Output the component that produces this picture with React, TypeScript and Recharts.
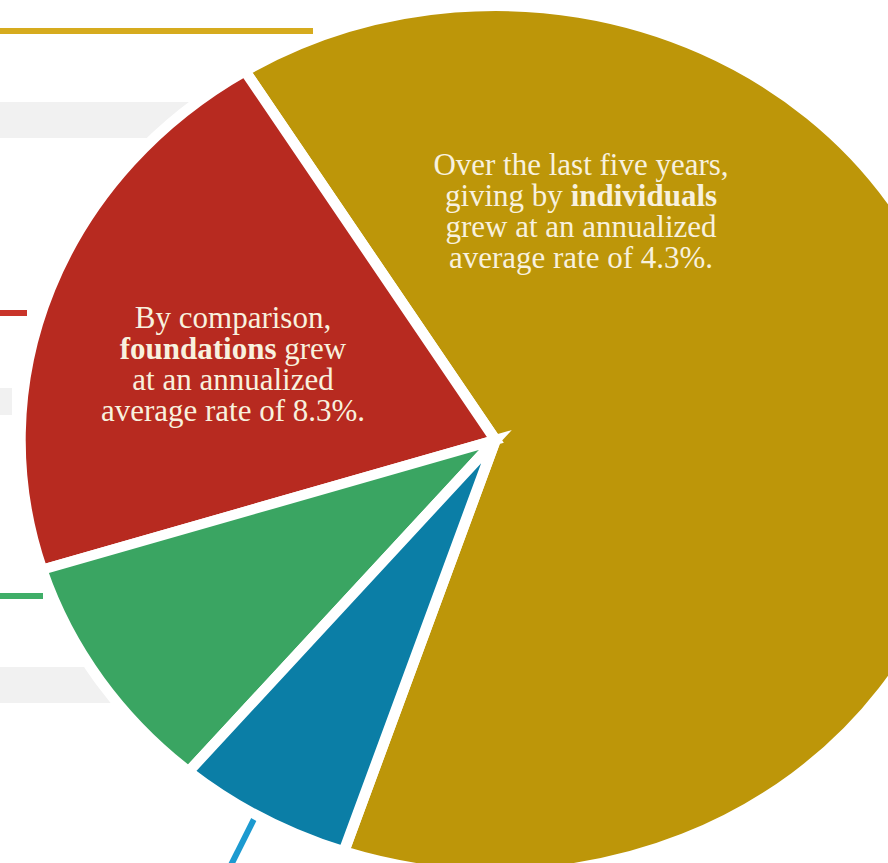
import React from "react"
import { PieChart, Pie, Cell } from "recharts"

// giving shares by source (percent)
const sources = ["Individuals", "Foundations", "Bequests", "Corporations"]
const shares = [64, 21, 9, 6]
const colors = ["#BD9609", "#B72A20", "#3AA562", "#0B7EA6"]

const individualsNote = [
  ["Over the last five years,"],
  ["giving by ", "individuals"],
  ["grew at an annualized"],
  ["average rate of 4.3%."]
]
const foundationsNote = [
  ["By comparison,"],
  ["", "foundations", " grew"],
  ["at an annualized"],
  ["average rate of 8.3%."]
]

const data = sources.map((name, i) => ({ name, value: shares[i] }))

// the pie in the picture is slightly wider than tall
const STRETCH = 1.095
const CX = 490
const CY = 435

function Note({ lines, x, y }: { lines: string[][]; x: number; y: number }) {
  return (
    <text
      x={x}
      y={y}
      textAnchor="middle"
      fill="#F8F1DE"
      fontFamily="'Liberation Serif', serif"
      fontSize={31}
    >
      {lines.map((parts, i) => (
        <tspan key={i} x={x} dy={i === 0 ? 0 : 31}>
          {parts.map((p, j) =>
            j % 2 === 1 ? (
              <tspan key={j} fontWeight="bold">{p}</tspan>
            ) : (
              <tspan key={j}>{p}</tspan>
            )
          )}
        </tspan>
      ))}
    </text>
  )
}

export default function App() {
  return (
    <div
      style={{
        position: "fixed",
        left: 0,
        top: 0,
        width: 888,
        height: 863,
        overflow: "hidden",
        background: "#fff"
      }}
    >
      {/* bits of the surrounding layout */}
      <svg width={888} height={863} style={{ position: "absolute", left: 0, top: 0 }}>
        <rect x={0} y={102} width={260} height={36} fill="#F1F1F1" />
        <rect x={0} y={388} width={12} height={27} fill="#F1F1F1" />
        <rect x={0} y={667} width={200} height={36} fill="#F1F1F1" />
        <rect x={0} y={28} width={313} height={6} fill="#D6AB1E" />
        <rect x={0} y={310} width={27} height={6} fill="#C9342A" />
        <rect x={0} y={593} width={43} height={6} fill="#40AE68" />
        <line x1={256} y1={815} x2={231} y2={865} stroke="#1C9AD0" strokeWidth={6} />
      </svg>

      <div
        style={{
          position: "absolute",
          left: 0,
          top: 0,
          transform: `scaleX(${STRETCH})`,
          transformOrigin: `${CX}px 0px`
        }}
      >
        <PieChart width={888} height={872}>
          <Pie
            data={data}
            dataKey="value"
            nameKey="name"
            cx={CX}
            cy={CY}
            outerRadius={434}
            startAngle={-108.6}
            endAngle={251.4}
            stroke="#ffffff"
            strokeWidth={10}
            isAnimationActive={false}
          >
            {data.map((d, i) => (
              <Cell key={d.name} fill={colors[i]} />
            ))}
          </Pie>
        </PieChart>
      </div>

      <svg width={888} height={863} style={{ position: "absolute", left: 0, top: 0 }}>
        <Note lines={individualsNote} x={581} y={175} />
        <Note lines={foundationsNote} x={233} y={328} />
      </svg>
    </div>
  )
}
